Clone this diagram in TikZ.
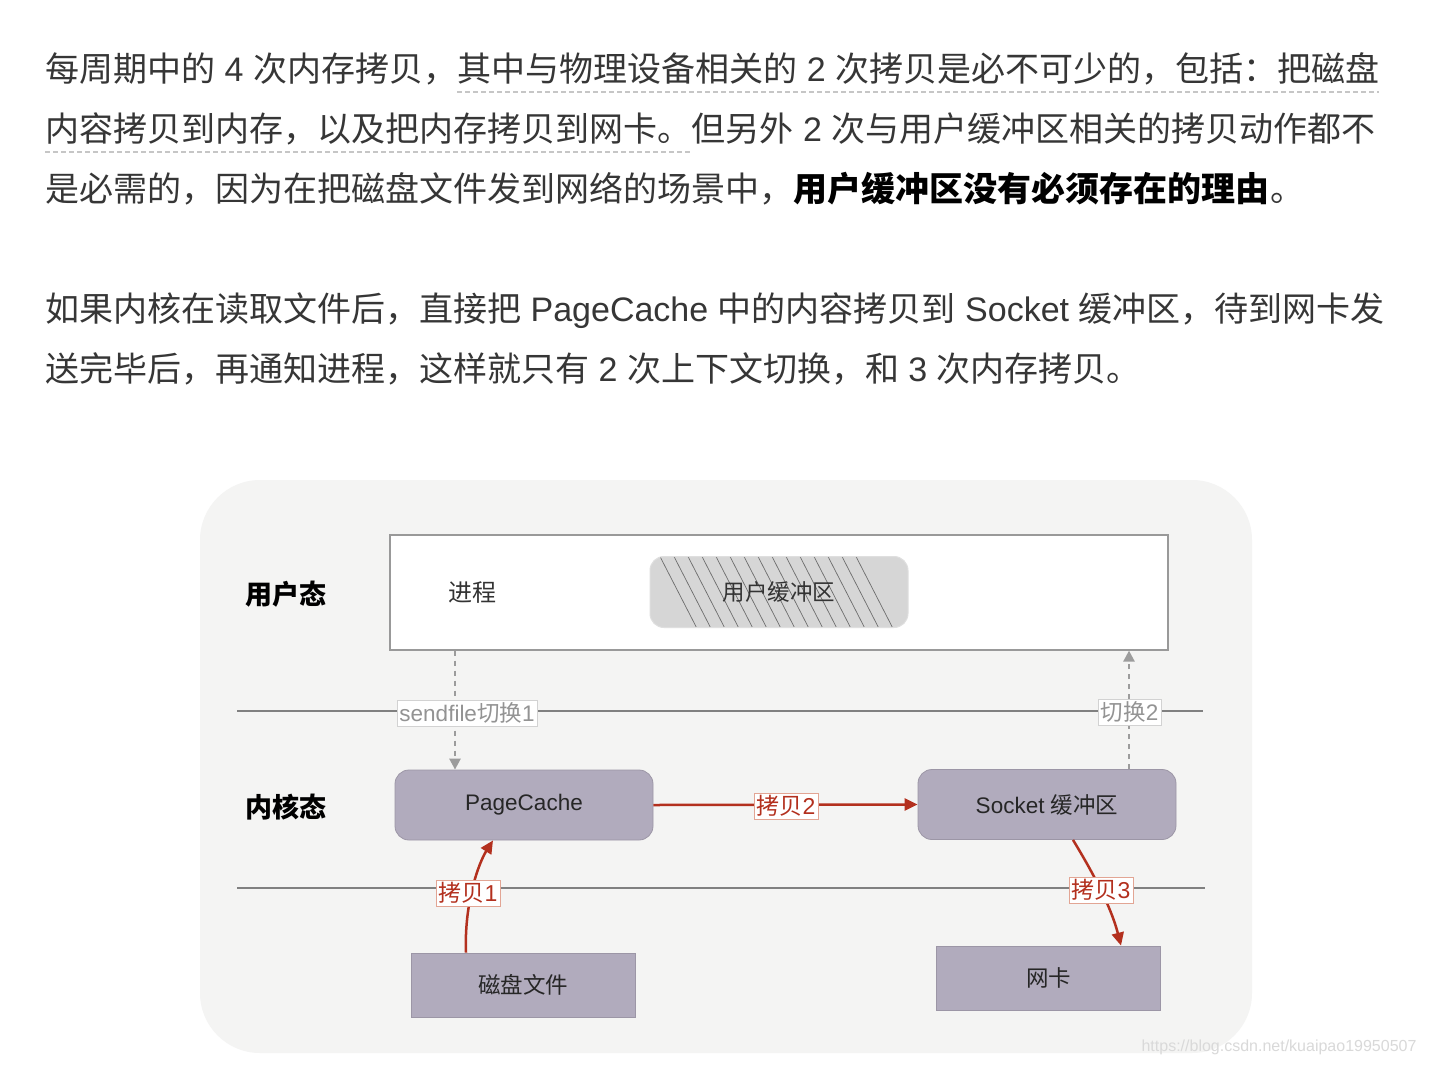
\documentclass[tikz,border=0pt]{standalone}
\usepackage{fontspec}
\setmainfont{Noto Sans CJK SC}
\newfontfamily\latinfont{Liberation Sans}
\newcommand\latn[1]{{\latinfont #1}}
\usetikzlibrary{arrows.meta,positioning}
\definecolor{TextDark}{HTML}{363636}
\definecolor{PanelBack}{HTML}{F4F4F3}
\definecolor{BoxFill}{HTML}{B1ABBD}
\definecolor{BufFill}{HTML}{D6D6D6}
\definecolor{RuleGray}{HTML}{808080}
\definecolor{SwitchGray}{HTML}{9C9C9C}
\definecolor{CopyRed}{HTML}{B3301E}
\definecolor{CopyRim}{HTML}{E2A594}

\begin{document}
\begin{tikzpicture}[x=1pt,y=-1pt,
    body/.style={anchor=base west,inner sep=0pt,text=TextDark,font=\fontsize{34}{40}\selectfont},
    statelbl/.style={font=\fontsize{27}{30}\selectfont\bfseries,text=black},
    box/.style={fill=BoxFill,draw=BoxFill!88!black,line width=0.8pt,text=black!85,font=\fontsize{22.5}{26}\selectfont},
    stage/.style={box,rounded corners=14pt,minimum width=258pt,minimum height=70pt},
    device/.style={box,minimum width=224pt,minimum height=64pt},
    sepline/.style={draw=RuleGray,line width=2pt},
    switcharrow/.style={draw=SwitchGray,line width=2.5pt,dash pattern=on 5pt off 5pt,-{Triangle[length=11pt,width=11pt]}},
    copyarrow/.style={draw=CopyRed,line width=2.5pt,-{Triangle[length=13pt,width=12pt]}},
    switchlbl/.style={draw=gray!35,fill=white,text=gray!85,font=\fontsize{22.5}{26}\selectfont,inner sep=2.5pt},
    copylbl/.style={draw=CopyRim,fill=white,text=CopyRed,font=\fontsize{23}{26}\selectfont,inner sep=2.5pt},
    hatched/.style={path picture={
        \foreach \k in {10,24,...,206} {
          \draw[gray!85!black,line width=0.7pt] ([xshift=\k pt]path picture bounding box.north west) -- ++(37pt,-72pt);
        }}}]
  \useasboundingbox[fill=white] (0,0) rectangle (1430,1066);

  % text above the figure
  \node[body] (l1a) at (45,81) {每周期中的\latn{ 4 }次内存拷贝，};
  \node[body] (l1b) at (l1a.base east) {其中与物理设备相关的\latn{ 2 }次拷贝是必不可少的，包括：把磁盘};
  \node[body] (l2a) at (45,141) {内容拷贝到内存，以及把内存拷贝到网卡。};
  \node[body] (l2b) at (l2a.base east) {但另外\latn{ 2 }次与用户缓冲区相关的拷贝动作都不};
  \node[body] (l3a) at (45,201) {是必需的，因为在把磁盘文件发到网络的场景中，};
  \node[body,text=black] (l3b) at (l3a.base east) {\bfseries 用户缓冲区没有必须存在的理由};
  \node[body] (l3c) at (l3b.base east) {。};
  \draw[gray!45,line width=1.5pt,dash pattern=on 5pt off 3pt] ([yshift=-11pt]l1b.base west) -- ([yshift=-11pt]l1b.base east);
  \draw[gray!45,line width=1.5pt,dash pattern=on 5pt off 3pt] ([yshift=-11pt]l2a.base west) -- ([yshift=-11pt]l2a.base east);
  \node[body] (p2a) at (45,321) {如果内核在读取文件后，直接把\latn{ PageCache }中的内容拷贝到\latn{ Socket }缓冲区，待到网卡发};
  \node[body] (p2b) at (45,381) {送完毕后，再通知进程，这样就只有\latn{ 2 }次上下文切换，和\latn{ 3 }次内存拷贝。};

  % figure
  \fill[PanelBack,rounded corners=60pt] (200,480) rectangle (1252,1053);
  \node[draw=RuleGray!80,fill=white,line width=1.2pt,minimum width=778pt,minimum height=115pt,inner sep=0pt] (userspace) at (779,592.5) {};
  \node[statelbl] (userlbl) at (286,594) {用户态};
  \node[statelbl] (kernellbl) at (286,807) {内核态};
  \node[text=black!80,font=\fontsize{24}{28}\selectfont] (proc) at (472,593) {进程};
  \node[fill=BufFill,draw=gray!25,line width=1pt,rounded corners=14pt,minimum width=258pt,minimum height=71pt,hatched,
        text=black!80,font=\fontsize{22.5}{26}\selectfont] (ubuf) at (779,592) {用户缓冲区};

  \draw[sepline] (237,711) -- (1203,711);
  \draw[sepline] (237,888) -- (1205,888);

  \node[stage] (pcache) at (524,805) {\latn{PageCache}};
  \node[stage] (sockbuf) at (1047,804.5) {\latn{Socket }缓冲区};
  \node[device] (disk) at (523,985) {磁盘文件};
  \node[device] (nic) at (1048.5,978) {网卡};

  % context switches
  \coordinate (sw1) at (455,0);
  \coordinate (sw2) at (1129,0);
  \draw[switcharrow] (sw1 |- userspace.south) -- (sw1 |- pcache.north);
  \node[switchlbl] (sw1lbl) at (467,713) {\latn{sendfile}切换\latn{1}};
  \draw[switcharrow] (sw2 |- sockbuf.north) -- (sw2 |- userspace.south);
  \node[switchlbl] (sw2lbl) at (1129.5,712) {切换\latn{2}};

  % copies
  \draw[copyarrow] ([xshift=-57pt]disk.north) .. controls ([xshift=-59pt,yshift=50pt]disk.north) and ([xshift=-45pt,yshift=-22pt]pcache.south) .. ([xshift=-31pt]pcache.south);
  \node[copylbl] (c1lbl) at (468,893) {拷贝\latn{1}};
  \draw[copyarrow] (pcache.east) -- (sockbuf.west);
  \node[copylbl] (c2lbl) at (786,806) {拷贝\latn{2}};
  \draw[copyarrow] ([xshift=26pt]sockbuf.south) .. controls ([xshift=43pt,yshift=-28pt]sockbuf.south) and ([xshift=62pt,yshift=41pt]nic.north) .. ([xshift=72.5pt]nic.north);
  \node[copylbl] (c3lbl) at (1101,890) {拷贝\latn{3}};

  \node[anchor=east,text=gray!30,font=\fontsize{16}{18}\selectfont\latinfont] (mark) at (1420,1047) {https://blog.csdn.net/kuaipao19950507};
\end{tikzpicture}
\end{document}
